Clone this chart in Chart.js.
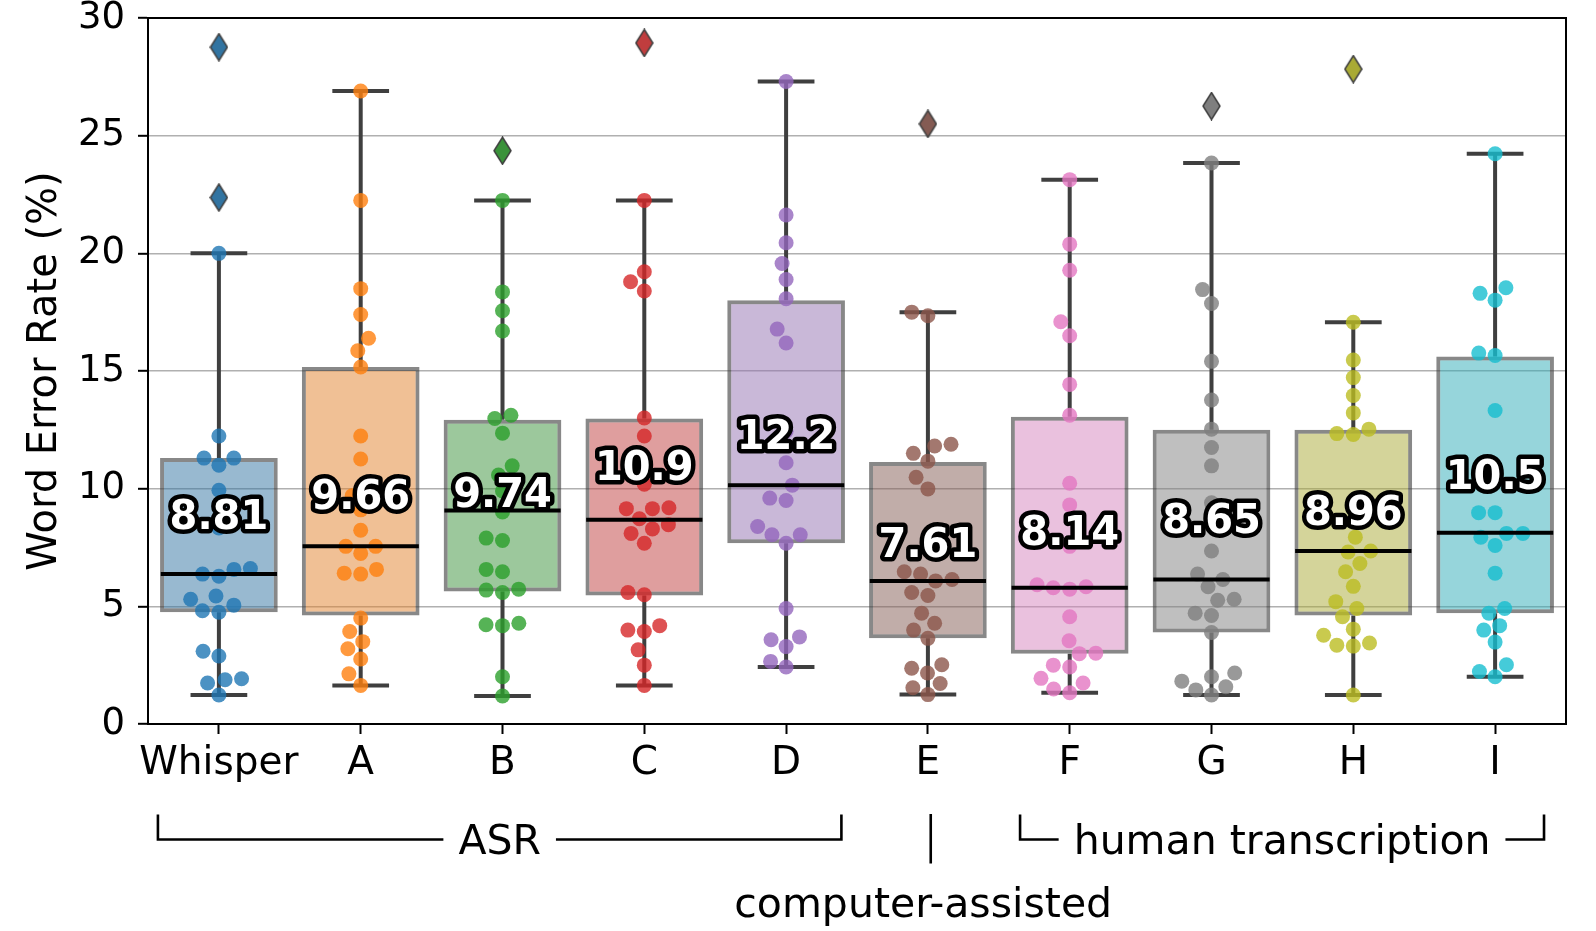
<!DOCTYPE html>
<html>
<head>
<meta charset="utf-8">
<title>Word Error Rate</title>
<script src="https://cdn.jsdelivr.net/npm/chart.js@4.4.1/dist/chart.umd.min.js"></script>
<style>
	body { margin: 0; background: #fff; }
	canvas { display: block; }
</style>
</head>
<body>
<canvas id="grafica_wer" width="1596" height="931"></canvas>
<script>
//Data
const categories = ['Whisper', 'A', 'B', 'C', 'D', 'E', 'F', 'G', 'H', 'I'];
const means = [8.81, 9.66, 9.74, 10.9, 12.2, 7.61, 8.14, 8.65, 8.96, 10.5];
const medians = [6.37, 7.55, 9.07, 8.68, 10.15, 6.08, 5.79, 6.14, 7.35, 8.13];
const q1 = [4.75, 4.61, 5.63, 5.46, 7.68, 3.64, 2.99, 3.89, 4.61, 4.71];
const q3 = [11.3, 15.17, 12.93, 12.98, 18.01, 11.13, 13.06, 12.5, 12.5, 15.62];
const whiskerLow = [1.23, 1.64, 1.19, 1.64, 2.42, 1.25, 1.33, 1.23, 1.23, 2.01];
const whiskerHigh = [20.0, 26.9, 22.25, 22.25, 27.3, 17.5, 23.13, 23.84, 17.07, 24.23];

const whisperOutliers = [28.76, 22.37];
const bOutliers = [24.36];
const cOutliers = [28.94];
const eOutliers = [25.5];
const gOutliers = [26.26];
const hOutliers = [27.83];
const outliers = [whisperOutliers, [], bOutliers, cOutliers, [], eOutliers, [], gOutliers, hOutliers, []];

const whisperPoints = [20.0, 12.24, 11.3, 11.3, 11.0, 9.93, 8.33, 6.37, 6.28, 6.57, 6.61, 5.3, 4.81, 4.75, 5.05, 5.44, 2.89, 3.09, 1.74, 1.88, 1.92, 1.23];
const aPoints = [26.9, 22.25, 18.5, 17.4, 16.39, 15.86, 15.17, 12.24, 11.26, 9.7, 9.1, 8.23, 7.55, 7.25, 7.55, 6.41, 6.37, 6.57, 4.5, 3.93, 3.5, 3.2, 2.76, 2.13, 1.64];
const bPoints = [22.25, 18.36, 17.56, 16.7, 12.98, 13.12, 12.36, 10.97, 10.58, 9.9, 9.01, 7.9, 7.8, 6.57, 6.47, 5.69, 5.59, 5.73, 4.22, 4.18, 4.28, 2.01, 1.19];
const cPoints = [22.25, 18.79, 19.22, 18.4, 13.0, 12.24, 10.19, 9.15, 9.15, 9.19, 8.72, 8.47, 8.29, 8.1, 7.68, 5.59, 5.49, 4.18, 3.93, 3.99, 3.15, 2.5, 1.64];
const dPoints = [27.3, 21.63, 20.45, 19.57, 18.89, 18.07, 16.78, 16.19, 12.44, 11.1, 10.15, 9.6, 9.5, 8.39, 8.04, 8.04, 7.68, 4.91, 3.58, 3.29, 3.7, 2.66, 2.42];
const ePoints = [17.5, 17.35, 11.5, 11.81, 11.89, 11.17, 10.48, 9.99, 6.14, 6.37, 6.08, 6.47, 5.59, 5.46, 4.71, 4.28, 3.99, 3.64, 2.37, 2.17, 2.52, 1.54, 1.25, 1.72];
const fPoints = [23.13, 20.39, 19.28, 17.09, 16.5, 14.43, 13.12, 10.23, 9.31, 7.55, 5.92, 5.79, 5.73, 5.83, 4.56, 3.54, 2.99, 3.01, 2.5, 2.42, 1.94, 1.74, 1.49, 1.33];
const gPoints = [23.84, 18.46, 17.87, 15.41, 13.77, 12.53, 11.75, 10.97, 9.4, 7.35, 6.14, 6.37, 5.83, 5.3, 5.26, 4.61, 4.71, 3.89, 2.17, 1.82, 2.01, 1.45, 1.58, 1.23];
const hPoints = [17.07, 15.47, 14.72, 13.96, 13.22, 12.34, 12.3, 12.53, 7.94, 7.35, 7.31, 6.82, 6.47, 5.85, 5.2, 4.91, 4.56, 3.77, 4.03, 3.35, 3.31, 3.44, 1.23];
const iPoints = [24.23, 18.3, 18.54, 18.01, 15.76, 15.66, 13.32, 8.98, 8.98, 7.94, 8.1, 8.1, 7.59, 6.41, 4.91, 4.71, 3.99, 4.18, 3.48, 2.23, 2.52, 2.01];
const points = [whisperPoints, aPoints, bPoints, cPoints, dPoints, ePoints, fPoints, gPoints, hPoints, iPoints];

const yTicks = [0, 5, 10, 15, 20, 25, 30];

//Colors
const dotColors = ['#1f77b4', '#ff7f0e', '#2ca02c', '#d62728', '#9467bd', '#8c564b', '#e377c2', '#7f7f7f', '#bcbd22', '#17becf'];
const boxColors = ['#3274a1', '#e1812c', '#3a923a', '#c03d3e', '#9372b2', '#845b53', '#d684bd', '#7f7f7f', '#a9aa35', '#2eabb8'];
const lineGray = '#3f3f3f';
const FONT = '"DejaVu Sans", "Liberation Sans", sans-serif';

document.addEventListener("DOMContentLoaded", () => {
	Chart.defaults.font.family = FONT;
	Chart.defaults.color = '#000';
	const chart = Grafica();
	//Swarm layout needs the pixel scales
	Swarm(chart);
});

function alpha(hex, a) {
	const n = parseInt(hex.slice(1), 16);
	return `rgba(${(n >> 16) & 255},${(n >> 8) & 255},${n & 255},${a})`;
}

//Thin diamond marker for the outliers
function diamond(color) {
	const c = document.createElement('canvas');
	c.width = 19;
	c.height = 29;
	const g = c.getContext('2d');
	g.beginPath();
	g.moveTo(9.5, 1);
	g.lineTo(18, 14.5);
	g.lineTo(9.5, 28);
	g.lineTo(1, 14.5);
	g.closePath();
	g.fillStyle = color;
	g.fill();
	g.strokeStyle = lineGray;
	g.lineWidth = 1.5;
	g.stroke();
	return c;
}

function buildDatasets() {
	const sets = [];

	//boxes
	sets.push({
		type: 'bar',
		data: categories.map((c, i) => ({x: i, y: [q1[i], q3[i]]})),
		backgroundColor: boxColors.map(c => alpha(c, 0.5)),
		borderColor: 'rgba(63,63,63,0.62)',
		borderWidth: 4,
		borderSkipped: false,
		grouped: false,
		barPercentage: 0.83,
		categoryPercentage: 1,
		order: 5
	});

	//whiskers + caps, one line with gaps
	const whiskers = [];
	categories.forEach((c, i) => {
		whiskers.push({x: i, y: q3[i]}, {x: i, y: whiskerHigh[i]}, {x: i, y: null});
		whiskers.push({x: i, y: q1[i]}, {x: i, y: whiskerLow[i]}, {x: i, y: null});
		whiskers.push({x: i - 0.2, y: whiskerHigh[i]}, {x: i + 0.2, y: whiskerHigh[i]}, {x: i, y: null});
		whiskers.push({x: i - 0.2, y: whiskerLow[i]}, {x: i + 0.2, y: whiskerLow[i]}, {x: i, y: null});
	});
	sets.push({
		type: 'line',
		data: whiskers,
		borderColor: lineGray,
		borderWidth: 4,
		pointRadius: 0,
		spanGaps: false,
		order: 4
	});

	//swarm dots
	points.forEach((vals, i) => {
		sets.push({
			type: 'scatter',
			data: vals.map(v => ({x: i, y: v})),
			backgroundColor: alpha(dotColors[i], 0.8),
			borderWidth: 0,
			pointRadius: 7.5,
			order: 3
		});
	});

	//medians
	const med = [];
	categories.forEach((c, i) => {
		med.push({x: i - 0.41, y: medians[i]}, {x: i + 0.41, y: medians[i]}, {x: i, y: null});
	});
	sets.push({
		type: 'line',
		data: med,
		borderColor: '#000',
		borderWidth: 4,
		pointRadius: 0,
		spanGaps: false,
		order: 1
	});

	//outliers
	const out = [];
	const styles = [];
	outliers.forEach((vals, i) => {
		vals.forEach(v => {
			out.push({x: i, y: v});
			styles.push(diamond(boxColors[i]));
		});
	});
	sets.push({
		type: 'scatter',
		data: out,
		pointStyle: styles,
		pointRadius: 9,
		order: 0
	});
	return sets;
}

//Frame + mean labels
const overlay = {
	id: 'overlay',
	afterDatasetsDraw(chart) {
		const ctx = chart.ctx;
		const a = chart.chartArea;
		const x = chart.scales.x;
		const y = chart.scales.y;
		ctx.save();
		ctx.strokeStyle = '#000';
		ctx.lineWidth = 2;
		ctx.strokeRect(a.left, a.top, a.right - a.left, a.bottom - a.top);

		const fs = 40;
		ctx.font = `bold ${fs}px ${FONT}`;
		ctx.textAlign = 'center';
		ctx.textBaseline = 'alphabetic';
		ctx.lineJoin = 'round';
		ctx.lineWidth = 9;
		means.forEach((m, i) => {
			const px = x.getPixelForValue(i);
			const py = y.getPixelForValue(m) - 2.5 + 0.3645 * fs;
			const txt = m.toPrecision(3);
			ctx.strokeStyle = '#000';
			ctx.strokeText(txt, px, py);
			ctx.fillStyle = '#fff';
			ctx.fillText(txt, px, py);
		});
		ctx.restore();
	}
};

//Group brackets under the axis
function bracket(ctx, x1, x2, y, text) {
	const mid = (x1 + x2) / 2;
	const w = ctx.measureText(text).width;
	ctx.beginPath();
	ctx.moveTo(x1, y - 25);
	ctx.lineTo(x1, y);
	ctx.lineTo(mid - w / 2 - 15, y);
	ctx.moveTo(mid + w / 2 + 15, y);
	ctx.lineTo(x2, y);
	ctx.lineTo(x2, y - 25);
	ctx.stroke();
	ctx.fillText(text, mid, y + 14);
}

const groups = {
	id: 'groups',
	afterDraw(chart) {
		const ctx = chart.ctx;
		const x = chart.scales.x;
		const b = chart.chartArea.bottom;
		ctx.save();
		ctx.strokeStyle = '#000';
		ctx.fillStyle = '#000';
		ctx.lineWidth = 2.6;
		ctx.font = `41px ${FONT}`;
		ctx.textAlign = 'center';
		ctx.textBaseline = 'alphabetic';
		bracket(ctx, x.getPixelForValue(-0.43), x.getPixelForValue(4.39), b + 115.5, 'ASR');
		bracket(ctx, x.getPixelForValue(5.65), x.getPixelForValue(9.345), b + 115.5, 'human transcription');
		const ex = x.getPixelForValue(5.02);
		ctx.beginPath();
		ctx.moveTo(ex, b + 90);
		ctx.lineTo(ex, b + 139.5);
		ctx.stroke();
		ctx.fillText('computer-assisted', x.getPixelForValue(4.967), b + 193);
		ctx.restore();
	}
};

function Grafica() {
	const canvas = document.getElementById('grafica_wer');
	const canvas2d = canvas.getContext('2d');

	return new Chart(canvas2d, {
		type: 'bar',
		data: {
			datasets: buildDatasets()
		},
		options: {
			responsive: false,
			animation: false,
			devicePixelRatio: 1,
			events: [],
			layout: { padding: { top: 18, right: 30, left: 0, bottom: 0 } },
			plugins: {
				legend: { display: false },
				tooltip: { enabled: false }
			},
			scales: {
				x: {
					type: 'linear',
					min: -0.5,
					max: 9.5,
					offset: false,
					afterBuildTicks(s) {
						s.ticks = categories.map((c, i) => ({value: i}));
					},
					grid: { offset: false, drawOnChartArea: false, tickLength: 10, tickColor: '#000', tickWidth: 2 },
					border: { color: '#000', width: 2 },
					ticks: {
						font: { size: 39 },
						color: '#000',
						padding: 6,
						maxRotation: 0,
						autoSkip: false,
						callback: (v) => categories[v]
					},
					afterFit(s) {
						s.height = 207;
						s.paddingLeft = 0;
						s.paddingRight = 0;
					}
				},
				y: {
					min: 0,
					max: 30,
					afterBuildTicks(s) {
						s.ticks = yTicks.map(v => ({value: v}));
					},
					grid: { color: '#b0b0b0', lineWidth: 1.6, tickLength: 10, tickColor: '#000', tickWidth: 2 },
					border: { color: '#000', width: 2 },
					ticks: { font: { size: 37 }, color: '#000', padding: 13 },
					title: {
						display: true,
						text: 'Word Error Rate (%)',
						font: { size: 40 },
						color: '#000',
						padding: { top: 22, bottom: 0 }
					},
					afterFit(s) {
						s.width = 148;
						s.paddingTop = 0;
						s.paddingBottom = 0;
					}
				}
			}
		},
		plugins: [overlay, groups]
	});
}

//Beeswarm offsets in pixels (closest free spot to the center)
function beeswarm(py, d) {
	const pts = py.map((p, k) => ({k: k, py: p, px: 0}));
	const sorted = pts.slice().sort((a, b) => b.py - a.py);
	const placed = [];
	sorted.forEach(p => {
		const near = placed.filter(q => Math.abs(q.py - p.py) < d);
		const cands = [0];
		near.forEach(q => {
			const dx = Math.sqrt(d * d - (q.py - p.py) * (q.py - p.py));
			cands.push(q.px - dx, q.px + dx);
		});
		cands.sort((a, b) => Math.abs(a) - Math.abs(b));
		for (const c of cands) {
			if (near.every(q => Math.hypot(q.px - c, q.py - p.py) >= d - 0.01)) {
				p.px = c;
				break;
			}
		}
		placed.push(p);
	});
	return pts.map(p => p.px);
}

function Swarm(chart) {
	const y = chart.scales.y;
	const x = chart.scales.x;
	const unit = x.getPixelForValue(1) - x.getPixelForValue(0);
	points.forEach((vals, i) => {
		const off = beeswarm(vals.map(v => y.getPixelForValue(v)), 16.5);
		chart.data.datasets[2 + i].data = vals.map((v, k) => ({x: i + off[k] / unit, y: v}));
	});
	chart.update('none');
}
</script>
</body>
</html>
